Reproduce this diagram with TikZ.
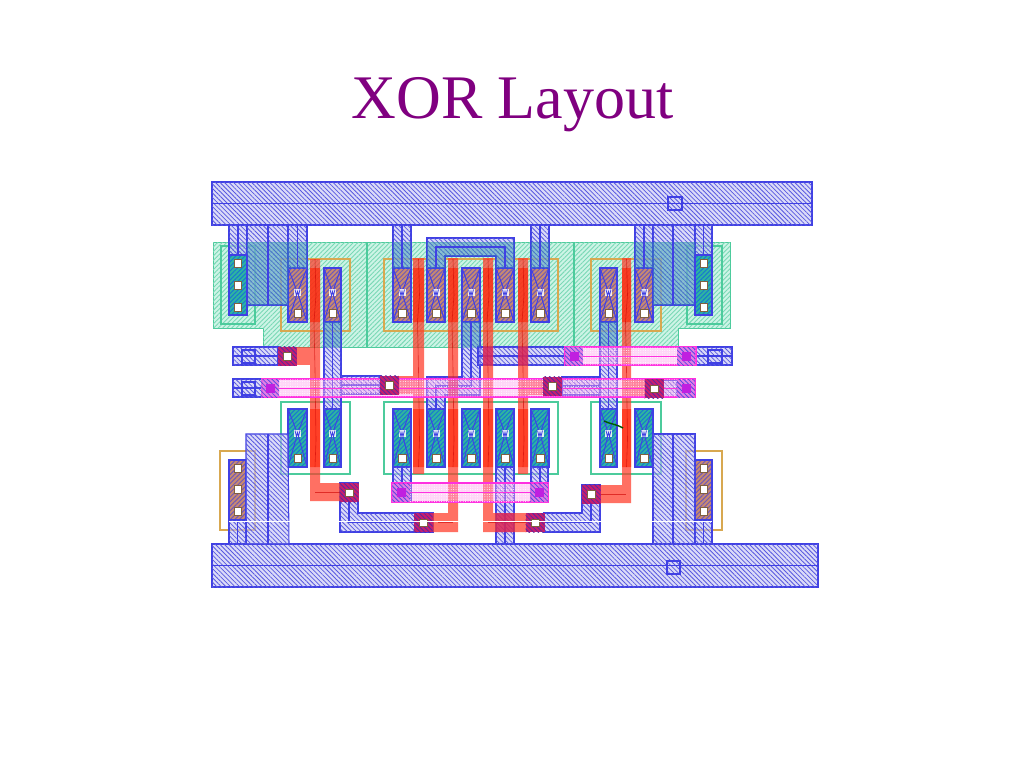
\documentclass[tikz,border=0pt]{standalone}
\usepackage{fontspec}
\setmainfont{Liberation Serif}
\usetikzlibrary{patterns.meta}
\definecolor{mblue}{HTML}{4040E4}
\definecolor{mfill}{HTML}{C4C4F4}
\definecolor{mhatch}{HTML}{5858E0}
\definecolor{wellg}{HTML}{4CCB9C}
\definecolor{wellf}{HTML}{CDF4E6}
\definecolor{selo}{HTML}{D8A850}
\definecolor{polyr}{HTML}{FF3A28}
\definecolor{pinkl}{HTML}{FF30E0}
\definecolor{pfill}{HTML}{FF9CEC}
\definecolor{brownf}{HTML}{C88A70}
\definecolor{brownh}{HTML}{7058B8}
\definecolor{tealf}{HTML}{2EB4A0}
\definecolor{tealh}{HTML}{1878D0}
\definecolor{contf}{HTML}{C81E6E}
\definecolor{conth}{HTML}{5A28A0}
\definecolor{qf}{HTML}{E070E0}
\definecolor{magf}{HTML}{C020E0}
\definecolor{cutedge}{HTML}{806040}
\definecolor{titlec}{HTML}{800080}
\definecolor{overc}{HTML}{2A98A8}
\tikzset{
 wellshape/.style={draw=wellg,line width=1pt,fill=wellf,postaction={pattern={Lines[angle=45,distance=3.2pt,line width=.9pt]},pattern color=wellg!75}},
 welledge/.style={draw=wellg,line width=1.1pt},
 seledge/.style={draw=selo,line width=1.2pt},
 pactive/.style={fill=brownf,postaction={pattern={Lines[angle=45,distance=3.2pt,line width=1pt]},pattern color=brownh}},
 nactive/.style={fill=tealf,postaction={pattern={Lines[angle=45,distance=3.2pt,line width=1pt]},pattern color=tealh}},
 metal/.style={draw=mblue,line width=1.05pt,fill=mfill,fill opacity=.6,postaction={pattern={Lines[angle=-45,distance=3.2pt,line width=.8pt]},pattern color=mhatch}},
 mline/.style={draw=mblue,line width=1.05pt},
 overteal/.style={fill=overc,fill opacity=.38},
 polyshape/.style={fill=polyr,fill opacity=.72},
 polyline/.style={draw=red!80!black,line width=.6pt,opacity=.6},
 chan/.style={fill=orange!25!red,opacity=.6},
 pinkshape/.style={draw=pinkl,line width=1.1pt,fill=pfill,fill opacity=.42},
 pinkdots/.style={pattern={Dots[distance=2.4pt,radius=.5pt]},pattern color=white},
 pcontact/.style={fill=contf,postaction={pattern={Lines[angle=-45,distance=3.2pt,line width=.8pt]},pattern color=conth}},
 qcontact/.style={fill=qf,opacity=.85,postaction={pattern={Lines[angle=-45,distance=3.2pt,line width=.8pt]},pattern color=mblue}},
 whitecut/.style={fill=white,draw=cutedge,line width=.3pt},
 magcut/.style={fill=magf},
 xline/.style={draw=mblue,line width=1pt},
 markbox/.style={draw=mblue,line width=1.05pt},
}
\newcommand{\xtor}[5]{%
 \path[#5] (#1,#3) rectangle (#2,#4);
 \pgfmathsetmacro{\cx}{(#1+#2)/2}\pgfmathsetmacro{\wy}{#3+24.5}\pgfmathsetmacro{\cy}{#4-9}
 \draw[xline] (#1,#3) -- (\cx,\wy) -- (#2,#3) (#1,#4) -- (\cx,\wy) -- (#2,#4);
 \draw[mblue,line width=1.05pt] (#1,#3) rectangle (#2,#4);
 \fill[white,opacity=.85] (\cx-3.5,\wy-3.5) rectangle (\cx+3.5,\wy+3.5);
 \draw[mblue,line width=.8pt] (\cx-2.5,\wy-3) -- (\cx-1,\wy+3) -- (\cx,\wy-1) -- (\cx+1,\wy+3) -- (\cx+2.5,\wy-3);
 \path[whitecut] (\cx-3.8,\cy-3.8) rectangle (\cx+3.8,\cy+3.8);
}
\newcommand{\cutw}[2]{\path[whitecut] (#1-3.8,#2-3.8) rectangle (#1+3.8,#2+3.8);}
\begin{document}
\begin{tikzpicture}[x=1pt,y=-1pt]
\useasboundingbox (0,0) rectangle (1024,768);
\fill[white] (0,0) rectangle (1024,768);
\node[text=titlec,font=\fontsize{62}{70}\selectfont,anchor=base] (title) at (512.5,118) {XOR Layout};
% wells
\path[wellshape] (213,242) -| (730,328) -| (678,347) -| (263,328) -| (213,242) -- cycle;
\draw[welledge] (367,242) -- (367,347) (574,242) -- (574,347);
\draw[welledge] (221,246) rectangle (255,324) (687,246) rectangle (722,324);
\foreach \a/\b in {281/350,384/558,591/661}{
 \draw[seledge] (\a,259) rectangle (\b,331);
 \draw[welledge] (\a,402) rectangle (\b,474);
}
\draw[seledge] (220,451) rectangle (255,530) (686,451) rectangle (722,530);
% contact diffusion
\path[pactive] (229,460) rectangle (246,520) (695,460) rectangle (712,520);
\draw[mblue,line width=1.05pt] (229,460) rectangle (246,520) (695,460) rectangle (712,520);
% transistor active
\foreach \a/\b in {288/307,324/341,393/411,427/445,462/480,496/514,531/549,600/617,635/653}{
 \xtor{\a}{\b}{268}{322}{pactive}
 \xtor{\a}{\b}{409}{467}{nactive}
}
% metal
\path[metal] (212,182) rectangle (812,225);
\path[metal] (212,544) rectangle (818,587);
\path[metal] (229,225) rectangle (247,255);
\path[metal] (247,225) rectangle (288,305);
\path[metal] (288,225) rectangle (307,268);
\path[metal] (393,225) rectangle (411,268);
\path[metal] (531,225) rectangle (549,268);
\path[metal] (635,225) rectangle (653,268);
\path[metal] (653,225) rectangle (695,305);
\path[metal] (695,225) rectangle (712,255);
\path[metal] (427,268) -- (427,238) -- (514,238) -- (514,268) -- (496,268) -- (496,256) -- (445,256) -- (445,268) -- cycle;
\path[metal] (324,322) rectangle (341,409);
\path[metal] (600,322) rectangle (617,409);
\path[metal] (462,322) -- (480,322) -- (480,395) -- (445,395) -- (445,409) -- (427,409) -- (427,377) -- (462,377) -- cycle;
\path[metal] (233,347) rectangle (278,365);
\path[metal] (478,347) rectangle (565,365);
\path[metal] (695,347) rectangle (732,365);
\path[metal] (233,379) rectangle (262,397);
\path[metal] (341,376) rectangle (380,394);
\path[metal] (562,377) rectangle (600,395);
\path[metal] (663,380) rectangle (677,397);
\path[metal] (246,544) |- (288,434) -- (289,544) -- cycle;
\path[metal] (653,544) |- (695,434) -- (695,544) -- cycle;
\path[metal] (229,520) rectangle (246,544);
\path[metal] (695,520) rectangle (712,544);
\path[metal] (393,467) rectangle (411,502);
\path[metal] (531,467) rectangle (548,502);
\path[metal] (496,467) rectangle (514,544);
\path[metal] (340,483) -| (358,513) -| (433,532) -| (340,483) -- cycle;
\path[metal] (582,485) -| (600,532) -| (544,513) -| (582,485) -- cycle;
% metal lying over the well
\path[overteal] (247,242) rectangle (288,305) (288,242) rectangle (307,268) (653,242) rectangle (695,305) (635,242) rectangle (653,268);
\path[overteal] (393,242) rectangle (411,268) (531,242) rectangle (549,268) (427,242) rectangle (445,268) (496,242) rectangle (514,268) (445,242) rectangle (496,256);
\path[overteal] (324,322) rectangle (341,347) (462,322) rectangle (480,347) (600,322) rectangle (617,347);
% contact columns in the well, over the metal
\path[nactive] (229,255) rectangle (247,315) (695,255) rectangle (712,315);
\draw[mblue,line width=1.05pt] (229,255) rectangle (247,315) (695,255) rectangle (712,315);
% metal centre lines
\draw[mline] (212,203.5) -- (812,203.5) (212,565.5) -- (818,565.5);
\draw[mline] (238,225) -- (238,255) (268,225) -- (268,305) (297.5,225) -- (297.5,268) (402,225) -- (402,268) (540,225) -- (540,268) (644,225) -- (644,268) (673,225) -- (673,305) (703.5,225) -- (703.5,255);
\draw[mline] (436,268) |- (505,247) -- (505,268);
\draw[mline] (332.5,322) -- (332.5,409) (608.5,322) -- (608.5,409);
\draw[mline] (471,322) |- (436,386) -- (436,409);
\draw[mline] (233,356) -- (278,356) (478,356) -- (565,356) (695,356) -- (732,356) (233,388) -- (262,388) (341,385) -- (380,385) (562,386) -- (600,386) (663,388.5) -- (677,388.5);
\draw[mline] (268,434) -- (268,544) (673,434) -- (673,544) (237.5,520) -- (237.5,544) (703.5,520) -- (703.5,544);
\draw[mline] (402,467) -- (402,492) (540,467) -- (540,492) (505,467) -- (505,544);
\draw[mline] (349,493) |- (423,522) (591,493) |- (535,522);
\draw[markbox] (668,197) rectangle (682,210) (667,561) rectangle (680,574);
\draw[markbox] (242,350) rectangle (255,363) (708,350) rectangle (722,363) (242,382) rectangle (255,395);
% poly
\path[polyshape] (310,259) -- (320,259) -- (320,483) -- (340,483) -- (340,501) -- (310,501) -- cycle;
\path[polyshape] (297,347) rectangle (310,365);
\path[polyshape] (413,258) -- (424,258) -- (424,474) -- (413,474) -- (413,394) -- (398,394) -- (398,376) -- (413,376) -- cycle;
\path[polyshape] (448,258) -- (458,258) -- (458,532) -- (433,532) -- (433,513) -- (448,513) -- cycle;
\path[polyshape] (483,258) -- (493,258) -- (493,513) -- (527,513) -- (527,532) -- (483,532) -- cycle;
\path[polyshape] (518,258) -- (528,258) -- (528,378) -- (543,378) -- (543,395) -- (528,395) -- (528,474) -- (518,474) -- cycle;
\path[polyshape] (622,258) -- (631,258) -- (631,380) -- (645,380) -- (645,397) -- (631,397) -- (631,503) -- (600,503) -- (600,485) -- (622,485) -- cycle;
\foreach \a/\b in {310/320,413/424,448/458,483/493,518/528,622/631}{
 \path[chan] (\a,268) rectangle (\b,322) (\a,409) rectangle (\b,467);
 \draw[polyline] ({(\a+\b)/2},259) -- ({(\a+\b)/2+1},295) -- ({(\a+\b)/2-1},322) -- ({(\a+\b)/2},370) -- ({(\a+\b)/2+1},440) -- ({(\a+\b)/2},467);
}
\draw[polyline] (315,492) -- (340,492) (438,522.5) -- (453,522.5) (488,522.5) -- (527,522.5) (600,494) -- (626,494);
% poly over metal, dark crossings
\fill[contf,opacity=.6] (483,347) rectangle (493,365) (518,347) rectangle (528,365) (448,377) rectangle (458,395) (496,513) rectangle (514,532);
% second poly strips
\path[pinkshape] (565,347) rectangle (696,365);
\path[pinkshape] (262,379) rectangle (695,397);
\path[pinkshape] (392,483) rectangle (548,502);
\path[pinkdots] (565,347) rectangle (696,365) (262,379) rectangle (695,397) (392,483) rectangle (548,502);
\draw[pinkl,line width=.9pt] (565,356) -- (696,356) (262,388) -- (695,388) (392,492.5) -- (548,492.5);
% poly contacts
\foreach \x/\y in {287/356,389/385,552/386,654/388.5,349/492.5,423/522.5,535/522.5,591/494}{
 \path[pcontact] (\x-9.5,\y-9.5) rectangle (\x+9.5,\y+9.5);
 \cutw{\x}{\y}
}
\foreach \x/\y in {574/356,686/356,270/388,686/388.5,401/492.5,539/492.5}{
 \path[qcontact] (\x-9,\y-9) rectangle (\x+9,\y+9);
 \path[magcut] (\x-4.5,\y-4.5) rectangle (\x+4.5,\y+4.5);
}
% diffusion contacts
\foreach \y in {263,285,307}{\cutw{237.5}{\y}\cutw{703.5}{\y}}
\foreach \y in {468,489,511}{\cutw{237.5}{\y}\cutw{703.5}{\y}}
\draw[white,line width=.8pt] (229,521) -- (712,521);
\draw[green!35!black,line width=1.4pt] (604,421) .. controls (610,424) and (616,424) .. (623,428);
\end{tikzpicture}
\end{document}
